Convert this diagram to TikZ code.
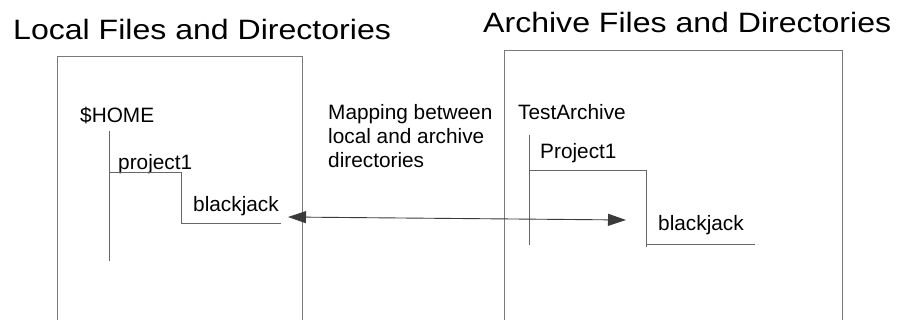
\documentclass[tikz,border=0pt]{standalone}
\usepackage{fontspec}
\setmainfont{Liberation Sans}
\newfontfamily\titlefont[FakeStretch=1.145]{Liberation Sans}
\usetikzlibrary{arrows.meta}
\definecolor{frameline}{HTML}{7A7A7A}
\definecolor{treeline}{HTML}{666666}
\definecolor{mapline}{HTML}{3A3A3A}
\tikzset{
  heading/.style={anchor=base west, inner sep=0pt, font=\titlefont\fontsize{28}{30}\selectfont},
  label/.style={anchor=base west, inner sep=0pt, font=\fontsize{20.8}{24}\selectfont},
  frame/.style={draw=frameline, line width=1pt},
  branch/.style={draw=treeline, line width=0.9pt},
  mapping/.style={draw=mapline, line width=0.9pt,
    {Triangle[length=18pt,width=12pt]}-{Triangle[length=18pt,width=12pt]}}
}
\begin{document}
\begin{tikzpicture}[x=1pt, y=-1pt]
\useasboundingbox (0,0) rectangle (902,320);

% headings
\node[heading] (title-local) at (13,40) {Local Files and Directories};
\node[heading] (title-archive) at (483,33) {Archive Files and Directories};

% open frames (they run off the bottom edge)
\draw[frame] (57,320) -- (57,57) -- (302,57) -- (302,320);
\draw[frame] (504,320) -- (504,51) -- (842,51) -- (842,320);

% local tree
\node[label] (home) at (80,123) {\$HOME};
\node[label] (project-local) at (118,170) {project1};
\node[label] (bj-local) at (193,212) {blackjack};
\coordinate (l-trunk-top) at (109,131);
\coordinate (l-trunk-bot) at (109,261);
\coordinate (l-elbow1) at (109,172);
\coordinate (l-elbow2) at (181,172);
\coordinate (l-elbow3) at (181,223);
\coordinate (l-leaf-end) at (281,223);
\draw[branch] (l-trunk-top) -- (l-trunk-bot);
\draw[branch] (l-elbow1) -- (l-elbow2) -- (l-elbow3) -- (l-leaf-end);

% mapping note
\node[label, align=left, anchor=north west] (mapping) at (328,104)
  {Mapping between\\local and archive\\directories};

% archive tree
\node[label] (testarchive) at (518,120) {TestArchive};
\node[label] (project-archive) at (540,159) {Project1};
\node[label] (bj-archive) at (658,231) {blackjack};
\coordinate (a-trunk-top) at (529,135);
\coordinate (a-trunk-bot) at (529,245);
\coordinate (a-elbow1) at (529,170);
\coordinate (a-elbow2) at (646,170);
\coordinate (a-elbow3) at (646,247);
\coordinate (a-leaf-start) at (646,244);
\coordinate (a-leaf-end) at (755,244);
\draw[branch] (a-trunk-top) -- (a-trunk-bot);
\draw[branch] (a-elbow1) -- (a-elbow2) -- (a-elbow3);
\draw[branch] (a-leaf-start) -- (a-leaf-end);

% two-way mapping arrow
\coordinate (map-l) at (288,217);
\coordinate (map-r) at (626,220);
\draw[mapping] (map-l) -- (map-r);
\end{tikzpicture}
\end{document}
